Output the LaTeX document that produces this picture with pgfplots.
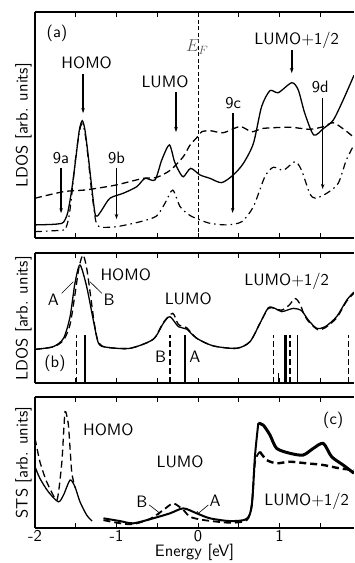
\documentclass[border=0pt]{standalone}
\usepackage{fontspec}
\setsansfont{lmsans10-regular.otf}
\usepackage{pgfplots}
\pgfplotsset{compat=1.18}
\usetikzlibrary{arrows.meta}
\newcommand{\fs}{\sffamily\fontsize{16.5}{19}\selectfont}
\begin{document}
\begin{tikzpicture}
\tikzset{arr/.style={-{Stealth[length=5pt,width=3.5pt]}, line width=1.5pt}}
\pgfplotsset{
 panel/.style={scale only axis, width=319pt, xmin=-2, xmax=1.914, ymin=0, ymax=1,
  axis x line=box, axis y line=left, y axis line style={-}, x axis line style={-},
  axis line style={line width=1.1pt}, ytick=\empty, xtick={-2,-1.5,...,1.5},
  xticklabels={}, tick align=inside, major tick length=5pt, tick style={line width=0.9pt, black},
  every axis y label/.style={at={(axis description cs:-0.036,0.5)}, rotate=90, anchor=center, font=\fs},
  anchor=south west},
 sol/.style={black, line width=1.3pt, smooth, tension=0.45},
 dsh/.style={black, line width=1.3pt, smooth, tension=0.45, dash pattern=on 7pt off 4pt},
 dd/.style={black, line width=1.2pt, smooth, tension=0.45, dash pattern=on 7pt off 4pt on 1.5pt off 4pt},
}
% ---------------- panel (a)
\begin{axis}[panel, at={(35pt,-238pt)}, height=226pt, ylabel={LDOS [arb. units]}]
\addplot[sol] coordinates {(-2,0.058)(-1.8,0.06)(-1.7,0.063)(-1.65,0.07)(-1.6,0.11)(-1.55,0.212)(-1.497,0.36)(-1.456,0.478)(-1.42,0.519)(-1.387,0.478)(-1.346,0.36)(-1.30,0.212)(-1.264,0.109)(-1.235,0.097)(-1.18,0.124)(-1.08,0.176)(-0.917,0.198)(-0.752,0.227)(-0.65,0.264)(-0.528,0.257)(-0.445,0.345)(-0.352,0.412)(-0.29,0.34)(-0.24,0.30)(-0.18,0.271)(-0.09,0.308)(0.025,0.279)(0.147,0.264)(0.29,0.245)(0.433,0.279)(0.556,0.33)(0.68,0.419)(0.78,0.581)(0.883,0.652)(0.985,0.643)(1.15,0.687)(1.23,0.655)(1.31,0.552)(1.42,0.456)(1.54,0.485)(1.66,0.522)(1.78,0.61)(1.914,0.72)};
\addplot[dsh] coordinates {(-2,0.176)(-1.65,0.205)(-1.4,0.212)(-1.24,0.22)(-1.0,0.235)(-0.67,0.264)(-0.51,0.268)(-0.34,0.30)(-0.18,0.36)(-0.1,0.41)(0.0,0.45)(0.045,0.47)(0.147,0.475)(0.31,0.466)(0.515,0.493)(0.66,0.47)(0.80,0.485)(1.13,0.49)(1.37,0.481)(1.54,0.493)(1.66,0.51)(1.80,0.478)(1.914,0.445)};
\addplot[dd] coordinates {(-2,0.028)(-1.65,0.035)(-1.62,0.045)(-1.58,0.10)(-1.54,0.22)(-1.50,0.36)(-1.455,0.47)(-1.425,0.505)(-1.39,0.47)(-1.35,0.36)(-1.31,0.22)(-1.28,0.14)(-1.255,0.075)(-1.22,0.052)(-1.18,0.047)(-1.0,0.05)(-0.71,0.072)(-0.51,0.097)(-0.405,0.154)(-0.31,0.212)(-0.22,0.139)(-0.1,0.10)(0.025,0.08)(0.147,0.065)(0.35,0.058)(0.536,0.072)(0.68,0.139)(0.82,0.271)(0.924,0.313)(1.05,0.30)(1.19,0.338)(1.27,0.30)(1.37,0.198)(1.44,0.176)(1.58,0.198)(1.72,0.242)(1.82,0.345)(1.914,0.412)};
\draw[black, line width=0.6pt, dash pattern=on 4pt off 2.5pt] (axis cs:0,0) -- (axis cs:0,1);
\node[font=\fs, text=black!65] at (axis cs:-0.01,0.845) {$E_F$};
\node[font=\fs] at (axis cs:-1.73,0.907) {(a)};
\draw[arr] (axis cs:-1.41,0.726) -- (axis cs:-1.41,0.553);
\node[font=\fs] at (axis cs:-1.366,0.774) {HOMO};
\draw[arr] (axis cs:-0.27,0.646) -- (axis cs:-0.27,0.469);
\node[font=\fs] at (axis cs:-0.405,0.69) {LUMO};
\draw[arr, line width=1.8pt] (axis cs:1.15,0.832) -- (axis cs:1.15,0.73);
\node[font=\fs] at (axis cs:1.21,0.876) {LUMO+1/2};
\draw[arr] (axis cs:-1.68,0.31) -- (axis cs:-1.68,0.11);
\node[font=\fs] at (axis cs:-1.68,0.354) {9a};
\draw[arr] (axis cs:-1.0,0.31) -- (axis cs:-1.0,0.084);
\node[font=\fs] at (axis cs:-1.0,0.354) {9b};
\draw[arr, line width=1.9pt] (axis cs:0.425,0.553) -- (axis cs:0.425,0.111);
\node[font=\fs] at (axis cs:0.43,0.595) {9c};
\draw[arr, line width=0.7pt] (axis cs:1.53,0.62) -- (axis cs:1.53,0.217);
\node[font=\fs] at (axis cs:1.50,0.668) {9d};
\end{axis}
% ---------------- panel (b)
\begin{axis}[panel, at={(35pt,-383pt)}, height=130pt, ylabel={LDOS [arb. units]}]
\addplot[sol] coordinates {(-2,0.259)(-1.775,0.28)(-1.65,0.344)(-1.57,0.51)(-1.51,0.767)(-1.448,0.908)(-1.366,0.741)(-1.285,0.485)(-1.22,0.305)(-1.12,0.275)(-0.834,0.267)(-0.55,0.336)(-0.426,0.459)(-0.344,0.51)(-0.24,0.433)(-0.14,0.415)(-0.016,0.344)(0.19,0.285)(0.475,0.267)(0.638,0.318)(0.76,0.459)(0.863,0.579)(0.945,0.574)(1.027,0.549)(1.17,0.574)(1.27,0.556)(1.353,0.485)(1.456,0.421)(1.56,0.433)(1.70,0.51)(1.825,0.638)(1.914,0.70)};
\addplot[dsh] coordinates {(-2,0.259)(-1.775,0.278)(-1.65,0.33)(-1.57,0.45)(-1.51,0.68)(-1.46,0.89)(-1.41,0.985)(-1.365,0.88)(-1.32,0.68)(-1.27,0.45)(-1.22,0.31)(-1.12,0.275)(-0.834,0.267)(-0.55,0.336)(-0.426,0.465)(-0.31,0.536)(-0.24,0.45)(-0.14,0.425)(-0.016,0.344)(0.19,0.285)(0.475,0.267)(0.638,0.318)(0.76,0.459)(0.863,0.575)(0.945,0.572)(1.027,0.56)(1.12,0.60)(1.19,0.65)(1.25,0.61)(1.30,0.53)(1.36,0.47)(1.47,0.41)(1.56,0.425)(1.70,0.50)(1.825,0.63)(1.914,0.69)};
\addplot[ycomb, black, line width=1.2pt, no marks] coordinates {(-1.387,0.37)(-0.16,0.37)(0.985,0.08)(1.067,0.37)(1.088,0.37)(1.22,0.37)};
\addplot[ycomb, black, line width=1.3pt, no marks, dash pattern=on 6pt off 3pt] coordinates {(-1.49,0.37)(-0.344,0.37)(0.924,0.37)(1.129,0.37)(1.85,0.37)};
\draw[line width=0.6pt] (axis cs:-1.673,0.69) -- (axis cs:-1.53,0.779);
\draw[line width=0.6pt] (axis cs:-1.18,0.69) -- (axis cs:-1.325,0.779);
\node[font=\fs] at (axis cs:-1.775,0.64) {A};
\node[font=\fs] at (axis cs:-1.09,0.64) {B};
\node[font=\fs] at (axis cs:-0.887,0.83) {HOMO};
\node[font=\fs] at (axis cs:-0.12,0.646) {LUMO};
\node[font=\fs] at (axis cs:1.088,0.78) {LUMO+1/2};
\node[font=\fs] at (axis cs:-0.46,0.2) {B};
\node[font=\fs] at (axis cs:-0.037,0.2) {A};
\node[font=\fs] at (axis cs:-1.755,0.15) {(b)};
\end{axis}
% ---------------- panel (c)
\begin{axis}[panel, at={(35pt,-528pt)}, height=131pt, ylabel={STS [arb. units]},
  xticklabels={\textsf{-2},,\textsf{-1},,\textsf{0},,\textsf{1},},
  xticklabel style={font=\fs, yshift=1pt}, xlabel={Energy [eV]}, xlabel style={font=\fs, yshift=4.5pt}]
\addplot[sol] coordinates {(-2,0.468)(-1.94,0.379)(-1.837,0.277)(-1.714,0.20)(-1.65,0.252)(-1.57,0.366)(-1.51,0.315)(-1.448,0.20)(-1.366,0.099)(-1.30,0.053)};
\addplot[sol, line width=2pt] coordinates {(-1.16,0.074)(-0.957,0.053)(-0.794,0.036)(-0.55,0.074)(-0.344,0.112)(-0.18,0.15)(-0.016,0.112)(0.147,0.074)(0.393,0.053)(0.597,0.069)(0.66,0.176)(0.70,0.557)(0.74,0.80)};
\addplot[sol, line width=3pt] coordinates {(0.74,0.80)(0.80,0.786)(0.883,0.71)(0.965,0.608)(1.13,0.57)(1.29,0.557)(1.415,0.608)(1.537,0.646)(1.64,0.544)(1.78,0.481)(1.914,0.418)};
\addplot[dsh, tension=0.3] coordinates {(-2,0.685)(-1.94,0.506)(-1.857,0.353)(-1.73,0.214)(-1.67,0.506)(-1.632,0.888)(-1.59,0.786)(-1.55,0.43)(-1.51,0.31)};
\addplot[dsh, line width=1.8pt] coordinates {(-1.16,0.06)(-0.834,0.028)(-0.589,0.069)(-0.426,0.137)(-0.303,0.188)(-0.18,0.137)(-0.098,0.086)(0.065,0.061)(0.393,0.04)(0.597,0.06)(0.66,0.176)(0.70,0.506)(0.76,0.582)};
\addplot[dsh, line width=2.4pt] coordinates {(0.76,0.582)(0.843,0.519)(0.965,0.494)(1.13,0.506)(1.33,0.494)(1.537,0.481)(1.74,0.455)(1.914,0.443)};
\draw[line width=0.6pt, -{Bar[width=5pt]}] (axis cs:-0.598,0.176) -- (axis cs:-0.466,0.112);
\draw[line width=0.6pt, -{Bar[width=5pt]}] (axis cs:0.127,0.176) -- (axis cs:0.004,0.112);
\node[font=\fs] at (axis cs:-1.10,0.748) {HOMO};
\node[font=\fs] at (axis cs:-0.22,0.506) {LUMO};
\node[font=\fs] at (axis cs:1.334,0.20) {LUMO+1/2};
\node[font=\fs] at (axis cs:1.66,0.824) {(c)};
\node[font=\fs] at (axis cs:-0.69,0.20) {B};
\node[font=\fs] at (axis cs:0.21,0.206) {A};
\end{axis}
\pgfresetboundingbox
\useasboundingbox (0,0) rectangle (354pt,-563pt);
\end{tikzpicture}
\end{document}
